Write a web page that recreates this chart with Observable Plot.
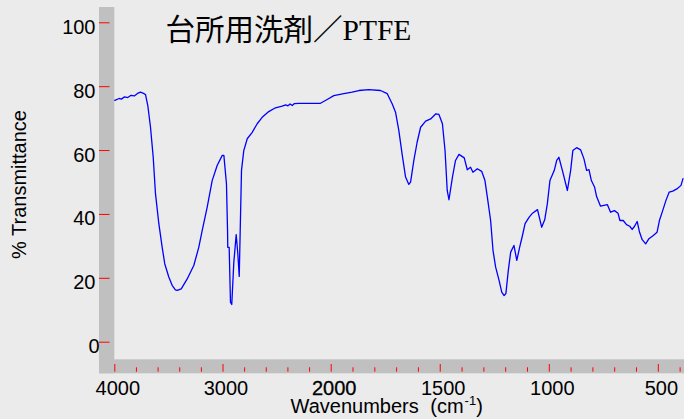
<!DOCTYPE html>
<html><head><meta charset="utf-8">
<script src="https://cdn.jsdelivr.net/npm/d3@7"></script>
<script src="https://cdn.jsdelivr.net/npm/@observablehq/plot@0.6"></script>
<style>
html,body{margin:0;padding:0;background:#ebebeb;}
svg{display:block;}
</style></head><body><div id="chart"></div>
<script>
const wavenumbers = [4000,3960,3940,3910,3880,3850,3820,3790,3763,3740,3716,3695,3670,3645,3624,3593,3562,3538,3501,3470,3440,3423,3386,3331,3270,3224,3192,3146,3100,3054,3007,2992,2968,2958,2956,2943,2931,2919,2900,2878,2863,2850,2829,2808,2776,2730,2684,2638,2577,2515,2453,2420,2400,2380,2360,2340,2300,2268,2099,2037,1988,1942,1904,1873,1828,1774,1743,1720,1705,1690,1674,1659,1644,1636,1621,1606,1590,1567,1544,1520,1506,1490,1478,1468,1460,1444,1430,1414,1390,1376,1361,1350,1330,1310,1295,1284,1269,1258,1246,1230,1218,1207,1199,1188,1177,1162,1149,1136,1123,1111,1093,1077,1054,1035,1021,1009,997,977,966,956,940,917,902,892,875,856,841,829,818,807,792,783,765,734,719,701,685,676,661,646,631,620,609,597,586,574,558,543,523,506,495,480,465,450,434,415,396,387];
const transmittance = [75.7,76.3,76.1,76.8,76.6,77.3,77.1,77.9,78.3,78.0,77.5,74.1,67.3,57.9,46.5,37.1,29.7,24.5,20.4,17.8,16.4,16.2,16.7,19.8,24.0,29.7,35.0,42.3,50.6,55.3,58.5,58.5,49.6,35.0,29.7,29.7,12.5,11.8,25.0,33.7,27.7,20.6,53.8,60.0,63.7,65.7,68.4,70.4,72.2,73.4,73.9,74.3,74.0,74.6,74.1,74.7,74.8,74.8,74.8,76.0,77.2,77.8,78.3,78.8,79.1,78.8,77.8,74.6,72.0,66.3,58.5,51.7,49.4,50.1,56.9,62.6,67.3,69.2,69.9,71.5,71.3,68.4,60.0,47.5,44.6,51.7,56.9,58.8,57.7,54.0,54.8,53.2,54.3,53.5,50.6,45.4,38.1,28.7,23.5,19.3,15.7,14.6,15.2,22.4,28.2,30.3,25.6,29.7,33.4,37.1,39.1,40.4,41.5,36.0,38.3,43.3,50.6,53.8,56.9,57.9,53.8,47.5,53.8,60.0,60.9,60.2,57.4,53.8,54.0,50.6,48.5,45.6,42.6,43.1,40.7,41.2,40.4,38.1,38.1,36.8,36.3,35.3,36.3,37.8,34.4,32.1,30.8,32.4,33.4,34.4,38.1,41.2,44.4,47.0,47.3,48.0,49.1,51.2];
const majorTicks = [4000,3000,2000,1500,1000,500];
const tickLabels = ["4000","3000","2000","1500","1000","500"];
const minorTicks = [3800,3600,3400,3200,2800,2600,2400,2200,1900,1800,1700,1600,1400,1300,1200,1100,900,800,700,600,400];
const yTicks = [0,20,40,60,80,100];
const yTickLabels = ["0","20","40","60","80","100"];
const title = "台所用洗剤／PTFE";
const xTitle = "Wavenumbers (cm-1)";
const yTitle = "% Transmittance";

const W = 684, H = 419;
const xDomain = [4000, 2000, 380], xRange = [114.3, 330.7, 684];
const yDomain = [0, 100], yRange = [341.7, 22.3];
const xs = d3.scaleLinear().domain(xDomain).range(xRange);
const ys = d3.scaleLinear().domain(yDomain).range(yRange);
const spectrum = wavenumbers.map((w, i) => ({w, t: transmittance[i]}));

const bands = [
  {x1: xs.invert(99), x2: xs.invert(114.3), y1: ys.invert(373.3), y2: ys.invert(7)},
  {x1: xs.invert(99), x2: xs.invert(684), y1: ys.invert(373.3), y2: ys.invert(359.3)}
];

const chart = Plot.plot({
  width: W, height: H,
  margin: 0,
  style: {background: "#ebebeb", fontFamily: "'Liberation Sans', Arial, sans-serif", overflow: "visible"},
  x: {type: "linear", domain: xDomain, range: xRange, axis: null},
  y: {type: "linear", domain: yDomain, range: yRange, axis: null},
  marks: [
    Plot.rect(bands, {x1: "x1", x2: "x2", y1: "y1", y2: "y2", fill: "#c0c0c0"}),
    Plot.ruleX(majorTicks, {x: d => d, y1: ys.invert(364), y2: ys.invert(371.7), stroke: "#ff0000", strokeWidth: 1}),
    Plot.ruleX(minorTicks, {x: d => d, y1: ys.invert(367.3), y2: ys.invert(371.7), stroke: "#ff0000", strokeWidth: 1}),
    Plot.ruleY(yTicks, {y: d => d, x1: xs.invert(99), x2: xs.invert(109.5), stroke: "#ff0000", strokeWidth: 1}),
    Plot.line(spectrum, {x: "w", y: "t", stroke: "#0000ff", strokeWidth: 1.3}),
    Plot.text(majorTicks, {x: d => d, y: ys.invert(394), text: (d, i) => tickLabels[i], dx: 3, lineAnchor: "bottom", fontSize: 20, fill: "#000",
      stroke: d => d === 2000 ? "#000" : "none", strokeWidth: 0.3}),
    Plot.text(yTicks, {x: d => xs.invert(d === 0 ? 99 : 95), y: d => d, text: (d, i) => yTickLabels[i], textAnchor: "end", lineAnchor: "bottom", dy: 11, fontSize: 20, fill: "#000"}),
    Plot.text([yTitle], {x: xs.invert(19.5), y: ys.invert(184), text: d => d, rotate: -90, fontSize: 20, fill: "#000", textAnchor: "middle", lineAnchor: "middle"}),
    Plot.text([xTitle], {x: xs.invert(290), y: ys.invert(412.7), text: d => d, textAnchor: "start", lineAnchor: "bottom", fontSize: 20, fill: "#000"}),
    Plot.text([title], {x: xs.invert(165), y: ys.invert(39), text: d => d, textAnchor: "start", lineAnchor: "bottom", fontSize: 29.5, fill: "#000",
      fontFamily: "'Liberation Serif','Noto Sans CJK JP',serif"})
  ]
});
document.getElementById("chart").appendChild(chart);

// superscript for cm-1
d3.select(chart).selectAll("text").each(function() {
  const t = d3.select(this);
  if (t.text() === xTitle) {
    t.text(null);
    t.append("tspan").text("Wavenumbers");
    t.append("tspan").attr("dx", 6).text(" (cm");
    t.append("tspan").attr("dx", 1).attr("dy", -8).attr("font-size", 13).text("-1");
    t.append("tspan").attr("dy", 8).text(")");
  }
});
</script>
</body></html>
